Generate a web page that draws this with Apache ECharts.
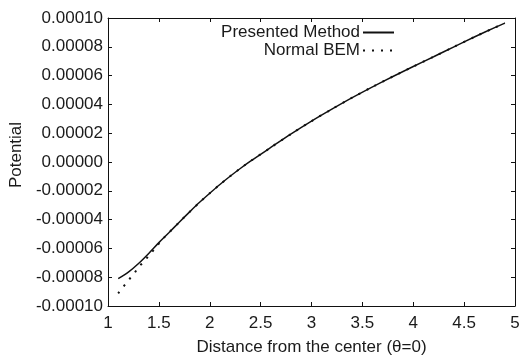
<!DOCTYPE html>
<html><head><meta charset="utf-8">
<script src="https://cdn.jsdelivr.net/npm/echarts@6/dist/echarts.min.js"></script>
<style>html,body{margin:0;padding:0;background:#fff}#c{width:525px;height:361px}</style>
</head><body><div id="c"></div>
<script>
const presentedX = [1.10,1.20,1.30,1.40,1.50,1.60,1.70,1.80,1.90,2.00,2.10,2.20,2.30,2.40,2.60,2.80,3.00,3.20,3.40,3.60,3.80,4.00,4.20,4.40,4.60,4.80,4.90];
const presentedY = [-8.1e-5,-7.65e-5,-7.05e-5,-6.35e-5,-5.6e-5,-4.9e-5,-4.18e-5,-3.48e-5,-2.8e-5,-2.17e-5,-1.56e-5,-0.99e-5,-0.45e-5,0.06e-5,1.01e-5,1.95e-5,2.84e-5,3.67e-5,4.47e-5,5.22e-5,5.94e-5,6.63e-5,7.31e-5,8.0e-5,8.68e-5,9.33e-5,9.64e-5];
const bemX = [1.10,1.15,1.20,1.255,1.30,1.36,1.41,1.465,1.52,1.60,1.70,1.80,1.90,2.00,2.10,2.20,2.30,2.40,2.60,2.80,3.00,3.20,3.40,3.60,3.80,4.00,4.20,4.40,4.60,4.80,4.90];
const bemY = [-9.12e-5,-8.67e-5,-8.22e-5,-7.76e-5,-7.3e-5,-6.86e-5,-6.41e-5,-6.0e-5,-5.48e-5,-4.9e-5,-4.18e-5,-3.48e-5,-2.8e-5,-2.17e-5,-1.56e-5,-0.99e-5,-0.45e-5,0.06e-5,1.01e-5,1.95e-5,2.84e-5,3.67e-5,4.47e-5,5.22e-5,5.94e-5,6.63e-5,7.31e-5,8.0e-5,8.68e-5,9.33e-5,9.64e-5];
const seriesNames = ['Presented Method','Normal BEM'];
const xName = 'Distance from the center (θ=0)';
const yName = 'Potential';

const font = 'Liberation Sans, Arial, sans-serif';
const txt = '#1a1a1a';
const chart = echarts.init(document.getElementById('c'));
const axisLine = {show:true, onZero:false, lineStyle:{color:'#111', width:1}};
const tick = {show:true, inside:true, length:4, lineStyle:{color:'#111'}};
const legendBase = {right:130, padding:0, itemWidth:31, itemHeight:10, align:'right', itemGap:4,
  itemStyle:{opacity:0}, textStyle:{fontFamily:font, fontSize:17, color:txt, padding:[0,-2,0,0]}};
chart.setOption({
  animation:false,
  grid:{left:102, right:10, top:18, bottom:48},
  legend:[
    Object.assign({}, legendBase, {data:[seriesNames[0]], top:24}),
    Object.assign({}, legendBase, {data:[seriesNames[1]], top:42})
  ],
  xAxis:[
    {type:'value', min:1, max:5, interval:0.5, position:'bottom', axisLine, axisTick:tick, splitLine:{show:false},
     axisLabel:{fontFamily:font, fontSize:17, color:txt, margin:9},
     name:xName, nameLocation:'middle', nameGap:33, nameTextStyle:{fontFamily:font, fontSize:17, color:txt}},
    {type:'value', min:1, max:5, interval:0.5, position:'top', axisLine, axisTick:tick, splitLine:{show:false}, axisLabel:{show:false}}
  ],
  yAxis:[
    {type:'value', min:-0.0001, max:0.0001, interval:0.00002, position:'left', axisLine, axisTick:tick, splitLine:{show:false},
     axisLabel:{fontFamily:font, fontSize:17, color:txt, margin:5, formatter:v=>v.toFixed(5)},
     name:yName, nameLocation:'middle', nameGap:80, nameTextStyle:{fontFamily:font, fontSize:17, color:txt, padding:[0,0,0,14]}},
    {type:'value', min:-0.0001, max:0.0001, interval:0.00002, position:'right', axisLine, axisTick:tick, splitLine:{show:false}, axisLabel:{show:false}}
  ],
  series:[
    {name:seriesNames[0], type:'line', symbol:'none', smooth:0.3, data:presentedX.map((x,i)=>[x,presentedY[i]]),
     lineStyle:{color:'#111', width:1.5}, itemStyle:{color:'#111'}, z:3},
    {name:seriesNames[1], type:'line', symbol:'none', smooth:0.3, data:bemX.map((x,i)=>[x,bemY[i]]),
     lineStyle:{color:'#111', width:2, type:[2,7]}, itemStyle:{color:'#111'}, z:4}
  ]
});
</script></body></html>
